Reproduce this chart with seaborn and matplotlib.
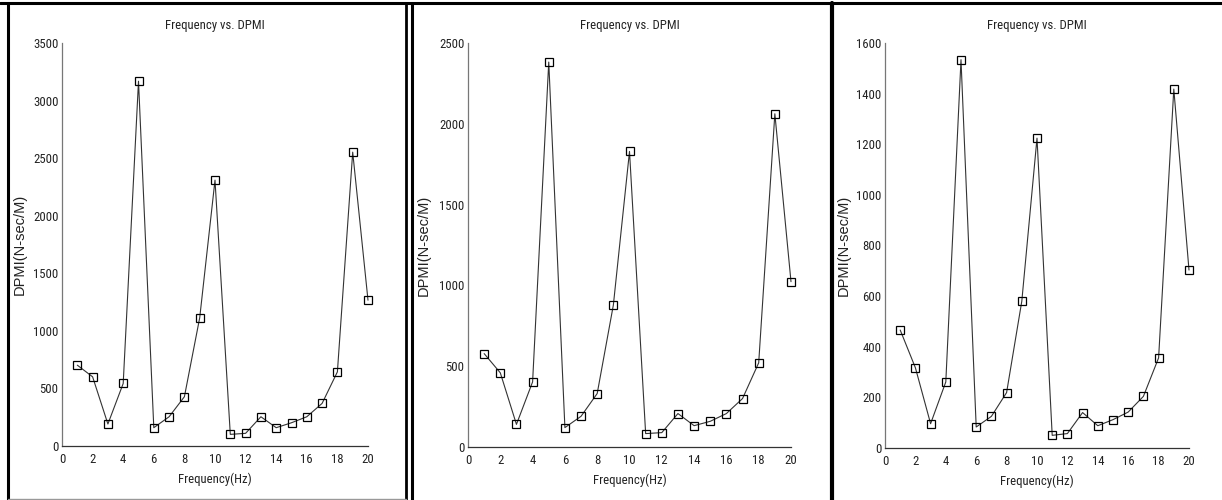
import matplotlib
matplotlib.use("Agg")
import os
import matplotlib.pyplot as plt
from matplotlib import font_manager
from matplotlib.font_manager import FontProperties
from matplotlib.lines import Line2D
import seaborn as sns
import pandas as pd

freq = list(range(1, 21))
dpmi_a = [702, 601, 191, 543, 3168, 159, 254, 428, 1113, 2309,
          101, 110, 254, 159, 202, 254, 370, 644, 2552, 1266]
dpmi_b = [578, 459, 140, 403, 2382, 120, 190, 331, 878, 1829,
          83, 89, 207, 132, 159, 207, 300, 521, 2062, 1023]
dpmi_c = [466, 317, 96, 261, 1534, 83, 125, 219, 580, 1224,
          50, 57, 140, 88, 112, 142, 204, 356, 1418, 703]

title = "Frequency vs. DPMI"
xlabel = "Frequency(Hz)"
ylabel = "DPMI(N-sec/M)"
xticks = list(range(0, 21, 2))
yticks_a = list(range(0, 3501, 500))
yticks_b = list(range(0, 2501, 500))
yticks_c = list(range(0, 1601, 200))

sns.set_style("white")
plt.rcParams['font.family'] = ['DejaVu Sans']


def find_narrow():
    files = [f.fname for f in font_manager.fontManager.ttflist]
    prefs = ["liberationsansnarrow-regular", "robotocondensed-regular",
             "opensans_condensed-regular", "opensanscondensed-regular",
             "notosans-condensed", "dejavusanscondensed.ttf"]
    for p in prefs:
        for fn in files:
            if p in os.path.basename(fn).lower():
                return fn
    for fn in files:
        b = os.path.basename(fn).lower()
        if ("narrow" in b or "condensed" in b) and "bold" not in b and "italic" not in b \
                and "oblique" not in b and "light" not in b:
            return fn
    return None


nf = find_narrow()
def narrow(size):
    if nf:
        return FontProperties(fname=nf, size=size)
    return FontProperties(family="DejaVu Sans", stretch="condensed", size=size)

wide = FontProperties(family=['Liberation Sans', 'DejaVu Sans'], size=10.5)
NS = 9.2

W, H = 1222, 500
fig = plt.figure(figsize=(W / 100, H / 100), dpi=100)

panels = [
    (dpmi_a, yticks_a, (62, 368, 43, 446)),
    (dpmi_b, yticks_b, (468, 791, 43, 447)),
    (dpmi_c, yticks_c, (885, 1189, 43, 448)),
]

for vals, yt, (l, r, t, b) in panels:
    ax = fig.add_axes([l / W, 1 - b / H, (r - l) / W, (b - t) / H])
    df = pd.DataFrame({"f": freq, "v": vals})
    sns.lineplot(data=df, x="f", y="v", ax=ax, color="#333333", linewidth=0.8,
                 marker="s", markersize=6, markerfacecolor="none",
                 markeredgecolor="black", markeredgewidth=0.9)
    for ln in ax.lines:
        ln.set_clip_on(False)
    ax.set_xlim(0, 20)
    ax.set_ylim(0, yt[-1])
    ax.set_xticks(xticks)
    ax.set_yticks(yt)
    ax.set_xticklabels([str(v) for v in xticks], fontproperties=narrow(NS))
    ax.set_yticklabels([str(v) for v in yt], fontproperties=narrow(NS))
    ax.tick_params(direction="in", length=4, width=0.8,
                   colors="#222222", pad=2.5)
    ax.tick_params(axis="x", pad=5)
    for s in ("top", "right"):
        ax.spines[s].set_visible(False)
    ax.spines["left"].set_color("#777777")
    ax.spines["bottom"].set_color("#333333")
    ax.spines["left"].set_linewidth(0.9)
    ax.spines["bottom"].set_linewidth(0.9)
    ax.set_title(title, fontproperties=narrow(NS), pad=10, color="#222222")
    ax.set_xlabel(xlabel, fontproperties=narrow(NS), color="#222222")
    ax.set_ylabel(ylabel, fontproperties=wide, color="#222222")
    ax.yaxis.set_label_coords(-0.114, 0.5)
    ax.xaxis.set_label_coords(0.5, -0.066)

def vline(x, lw):
    fig.add_artist(Line2D([x / W, x / W], [0, 1 - 3 / H], color="black",
                          linewidth=lw, transform=fig.transFigure))

fig.add_artist(Line2D([0, 1], [1 - 3 / H, 1 - 3 / H], color="black",
                      linewidth=2.2, transform=fig.transFigure))
vline(8, 2.2)
vline(406, 2.0)
vline(412, 2.2)
vline(832, 3.0)
fig.add_artist(Line2D([8 / W, 406 / W], [1 / H, 1 / H], color="#999999",
                      linewidth=1.0, transform=fig.transFigure))

fig.savefig("out.png", dpi=100)
